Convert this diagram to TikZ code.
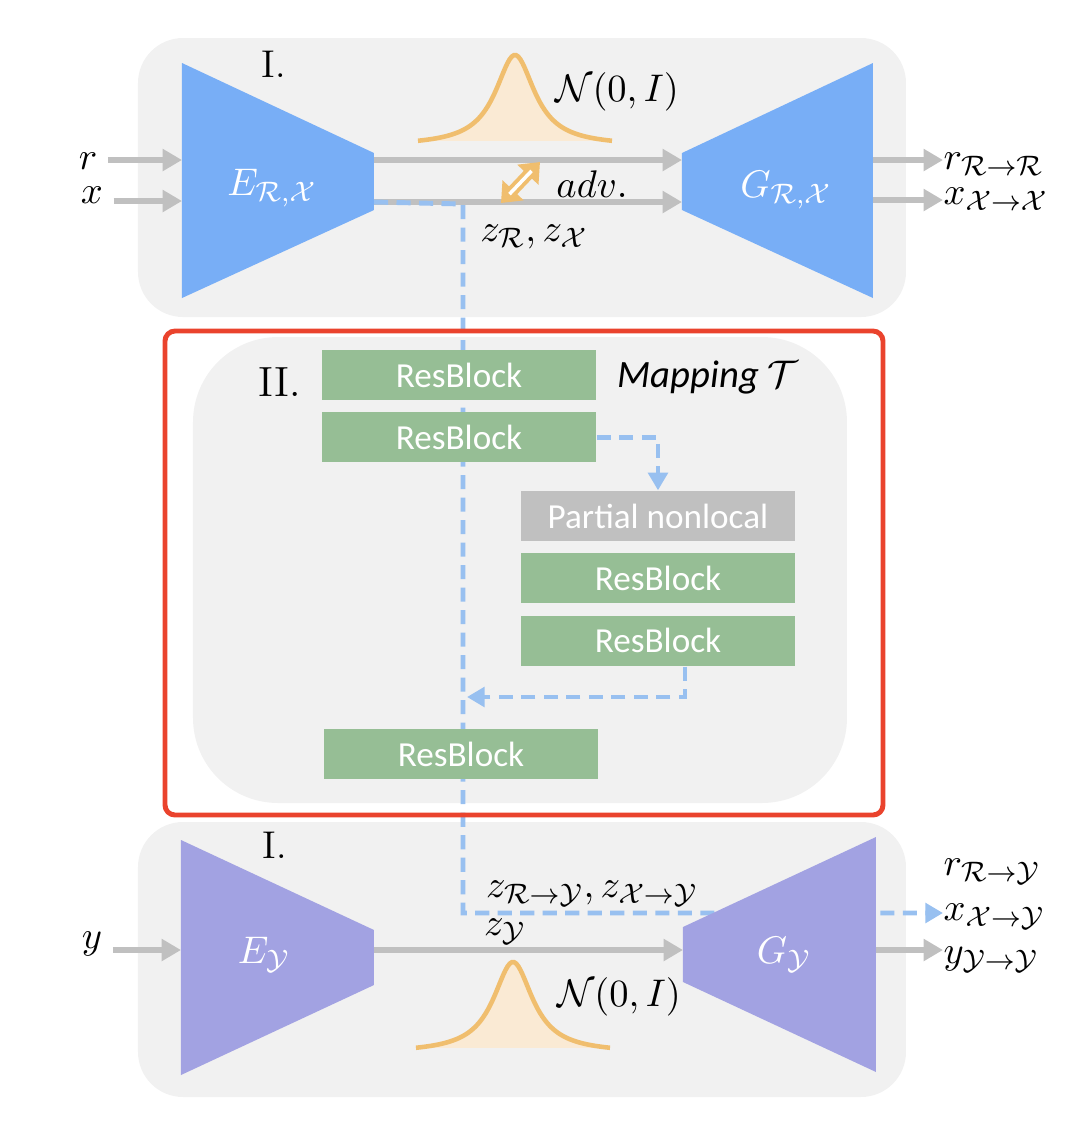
\documentclass[tikz,border=0pt]{standalone}
\usepackage{fontspec}
\newfontfamily\blockfont{Carlito}
\usetikzlibrary{arrows.meta,positioning}

\definecolor{encblue}{RGB}{120,174,246}
\definecolor{encpurple}{RGB}{162,162,226}
\definecolor{panelgray}{RGB}{241,241,241}
\definecolor{flowgray}{RGB}{192,192,192}
\definecolor{skipblue}{RGB}{152,192,240}
\definecolor{resgreen}{RGB}{150,190,149}
\definecolor{nlgray}{RGB}{192,192,192}
\definecolor{bellorange}{RGB}{240,190,110}
\definecolor{bellfill}{RGB}{250,234,212}
\definecolor{mapred}{RGB}{234,67,45}

\tikzset{
  panel/.style={fill=panelgray, rounded corners=0.45cm},
  flow/.style={flowgray, line width=1.7pt, -{Triangle[length=5.5pt,width=6pt]}},
  skip/.style={skipblue, line width=1.4pt, dash pattern=on 4pt off 2.4pt},
  skiparrow/.style={skip, -{Triangle[length=5pt,width=5.5pt]}},
  resblock/.style={fill=resgreen, minimum width=2.74cm, minimum height=0.5cm,
    inner sep=0pt, text=white, font=\blockfont\fontsize{10}{12}\selectfont},
  nonlocal/.style={resblock, fill=nlgray},
  lbl/.style={inner sep=0pt},
  trlbl/.style={text=white},
}

\begin{document}
\begin{tikzpicture}[x=0.01cm, y=-0.01cm, font=\fontsize{11}{13}\selectfont, node distance=0.11cm]
\useasboundingbox (0,0) rectangle (1090,1144);

% panels
\fill[panel] (138,38) rectangle (906,317);
\fill[panel, rounded corners=0.85cm] (193,337) rectangle (847,803);
\fill[panel] (138,822) rectangle (906,1097);

% bells
\foreach \bx/\by in {515/141, 513/1048} {
  \fill[bellfill] plot[domain=-97:97, samples=90] ({\bx+\x},{\by+5-91/(1+\x*\x/576)}) -- cycle;
  \draw[bellorange, line width=1.3pt] plot[domain=-97:97, samples=90] ({\bx+\x},{\by+5-91/(1+\x*\x/576)});
}

% labels at the sides
\node[lbl] (rin) at (88,161) {$r$};
\node[lbl] (xin) at (92,195) {$x$};
\node[lbl] (yin) at (92,944) {$y$};
\node[lbl, anchor=west] (rrr) at (943,164) {$r_{\mathcal{R}\to\mathcal{R}}$};
\node[lbl, anchor=west] (xxx) at (943,199) {$x_{\mathcal{X}\to\mathcal{X}}$};
\node[lbl, anchor=west] (rry) at (943,872) {$r_{\mathcal{R}\to\mathcal{Y}}$};
\node[lbl, anchor=west] (xxy) at (943,917) {$x_{\mathcal{X}\to\mathcal{Y}}$};
\node[lbl, anchor=west] (yyy) at (943,960) {$y_{\mathcal{Y}\to\mathcal{Y}}$};

% trapezoid sides
\coordinate (eRin) at (182,160);
\coordinate (eXin) at (182,201);
\coordinate (eRout) at (374,160);
\coordinate (eXout) at (374,202);
\coordinate (gRin) at (682,160);
\coordinate (gXin) at (682,202);
\coordinate (gRout) at (873,160);
\coordinate (gXout) at (873,200);
\coordinate (eYin) at (181,950);
\coordinate (eYout) at (374,950);
\coordinate (gYin) at (683,950);
\coordinate (gYout) at (876,950);

% gray flows
\draw[flow] ([xshift=0.1cm]rin.east|-eRin) -- (eRin);
\draw[flow] ([xshift=0.1cm]xin.east|-eXin) -- (eXin);
\draw[flow] (eRout) -- (gRin);
\draw[flow] (eXout) -- (gXin);
\draw[flow] (gRout) -- (gRout-|rrr.west);
\draw[flow] (gXout) -- (gXout-|xxx.west);
\draw[flow] ([xshift=0.1cm]yin.east|-eYin) -- (eYin);
\draw[flow] (eYout) -- (gYin);
\draw[flow] (gYout) -- (gYout-|yyy.west);

% mapping blocks
\node[resblock] (rb1) at (459,375) {ResBlock};
\node[resblock, below=of rb1] (rb2) {ResBlock};
\node[nonlocal] (nl) at (658,516) {Partial nonlocal};
\node[resblock, below=of nl] (rb3) {ResBlock};
\node[resblock, below=of rb3] (rb4) {ResBlock};
\node[resblock] (rb5) at (461,754) {ResBlock};

% skip path
\coordinate (skiptop) at (463,204);
\coordinate (skipbot) at (463,913);
\coordinate (merge) at (467,697);
\draw[skiparrow] (eXout) -- (skiptop) -- (skipbot) -- (skipbot-|xxy.west);
\draw[skiparrow] (rb2.east) -| (nl.north);
\draw[skiparrow] ([xshift=0.27cm]rb4.south) |- (merge);

% blocks again on top of the skip line
\node[resblock] at (rb1) {ResBlock};
\node[resblock] at (rb2) {ResBlock};
\node[resblock] at (rb5) {ResBlock};

% encoders and generators
\fill[encblue] (182,63) -- (374,153) -- (374,210) -- (182,298) -- cycle;
\fill[encblue] (682,153) -- (873,63) -- (873,298) -- (682,210) -- cycle;
\fill[encpurple] (181,840) -- (374,930) -- (374,985) -- (181,1075) -- cycle;
\fill[encpurple] (683,927) -- (876,837) -- (876,1072) -- (683,982) -- cycle;
\node[trlbl] (erx) at (272,188) {$E_{\mathcal{R},\mathcal{X}}$};
\node[trlbl] (grx) at (786,190) {$G_{\mathcal{R},\mathcal{X}}$};
\node[trlbl] (ey) at (264,955) {$E_{\mathcal{Y}}$};
\node[trlbl] (gy) at (784,955) {$G_{\mathcal{Y}}$};

% adversarial arrow
\coordinate (advA) at (501,203);
\coordinate (advB) at (540,162);
\draw[bellorange, line width=3.2pt, {Triangle[length=5pt,width=8pt]}-{Triangle[length=5pt,width=8pt]}] (advA) -- (advB);
\draw[white, line width=1pt, shorten <=3.5pt, shorten >=3.5pt] (advA) -- (advB);

% mapping frame
\draw[mapred, line width=1.4pt, rounded corners=0.1cm] (165,331) rectangle (883,815);

% texts
\node (one) at (274,64) {I.};
\node (onebot) at (275,845) {I.};
\node[font=\fontsize{12}{14}\selectfont] (two) at (280,382) {II.};
\node (map) at (708,377) {\blockfont\itshape Mapping $\mathcal{T}$};
\node (normtop) at (617,92) {$\mathcal{N}(0,I)$};
\node (normbot) at (619,997) {$\mathcal{N}(0,I)$};
\node (adv) at (592,184) {$adv.$};
\node (zrx) at (534,237) {$z_{\mathcal{R}},z_{\mathcal{X}}$};
\node (zmap) at (592,894) {$z_{\mathcal{R}\to\mathcal{Y}},z_{\mathcal{X}\to\mathcal{Y}}$};
\node (zy) at (505,932) {$z_{\mathcal{Y}}$};
\end{tikzpicture}
\end{document}
